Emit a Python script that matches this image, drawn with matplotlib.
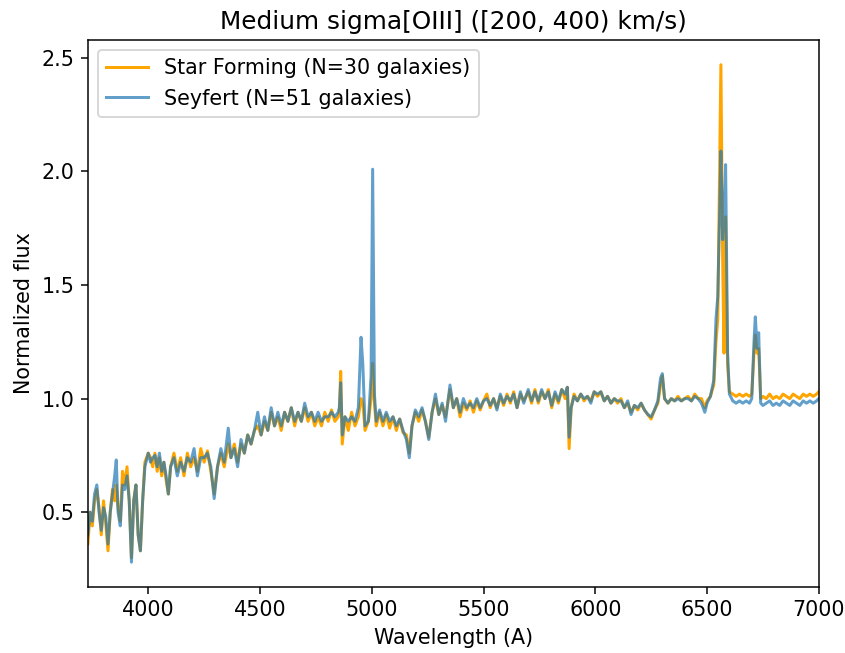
import matplotlib
matplotlib.use("Agg")
import matplotlib.pyplot as plt
import numpy as np

plt.rcParams["font.size"] = 11

# Stacked, continuum-normalised spectra for the medium sigma[OIII] bin
wavelength = [
    3730, 3740, 3750, 3760, 3770, 3780, 3790, 3800, 3810, 3820, 3830, 3840, 3850, 3857, 3865,
    3875, 3885, 3895, 3905, 3915, 3925, 3935, 3945, 3955, 3965, 3975, 3985, 4000, 4010, 4020,
    4030, 4040, 4050, 4060, 4070, 4080, 4090, 4100, 4115, 4130, 4145, 4160, 4175, 4190, 4205,
    4220, 4235, 4250, 4265, 4280, 4295, 4310, 4325, 4340, 4358, 4370, 4385, 4400, 4415, 4430,
    4445, 4460, 4475, 4490, 4505, 4520, 4535, 4550, 4565, 4580, 4595, 4610, 4625, 4640, 4655,
    4670, 4685, 4700, 4715, 4730, 4745, 4760, 4775, 4790, 4805, 4820, 4835, 4850, 4855, 4861,
    4868, 4880, 4895, 4910, 4925, 4940, 4952, 4960, 4970, 4985, 4997, 5004, 5012, 5020, 5035,
    5050, 5065, 5080, 5095, 5110, 5125, 5140, 5155, 5168, 5180, 5195, 5210, 5225, 5240, 5255,
    5270, 5285, 5300, 5315, 5330, 5350, 5365, 5380, 5395, 5410, 5425, 5440, 5455, 5470, 5485,
    5500, 5515, 5530, 5545, 5560, 5575, 5590, 5605, 5620, 5635, 5650, 5665, 5680, 5700, 5715,
    5730, 5745, 5760, 5775, 5790, 5805, 5820, 5835, 5850, 5865, 5875, 5883, 5892, 5905, 5920,
    5935, 5950, 5965, 5980, 5995, 6010, 6025, 6040, 6055, 6070, 6085, 6100, 6115, 6130, 6145,
    6160, 6175, 6190, 6205, 6220, 6235, 6250, 6265, 6280, 6292, 6300, 6310, 6325, 6340, 6355,
    6370, 6385, 6400, 6415, 6430, 6445, 6460, 6475, 6490, 6500, 6515, 6530, 6540, 6548, 6556,
    6562, 6570, 6576, 6583, 6592, 6600, 6615, 6630, 6645, 6660, 6675, 6690, 6700, 6710, 6716,
    6724, 6731, 6740, 6750, 6765, 6780, 6795, 6810, 6825, 6840, 6855, 6870, 6885, 6900, 6915,
    6930, 6945, 6960, 6975, 6990, 7000,
]

flux_sf = [
    0.36, 0.50, 0.44, 0.55, 0.60, 0.52, 0.40, 0.55, 0.45, 0.33, 0.50, 0.60, 0.55, 0.62, 0.52,
    0.46, 0.68, 0.62, 0.70, 0.55, 0.30, 0.55, 0.62, 0.40, 0.33, 0.55, 0.72, 0.76, 0.74, 0.70,
    0.76, 0.68, 0.74, 0.66, 0.72, 0.64, 0.58, 0.70, 0.76, 0.68, 0.74, 0.66, 0.76, 0.70, 0.74,
    0.68, 0.78, 0.72, 0.77, 0.68, 0.58, 0.70, 0.76, 0.70, 0.80, 0.74, 0.80, 0.72, 0.80, 0.76,
    0.84, 0.80, 0.86, 0.88, 0.84, 0.90, 0.86, 0.94, 0.88, 0.92, 0.86, 0.94, 0.90, 0.96, 0.88,
    0.94, 0.90, 0.96, 0.90, 0.94, 0.88, 0.92, 0.88, 0.94, 0.90, 0.95, 0.90, 0.92, 0.94, 1.12,
    0.80, 0.92, 0.86, 0.94, 0.88, 0.92, 1.00, 0.98, 0.86, 0.90, 1.00, 1.155, 0.98, 0.88, 0.94,
    0.88, 0.93, 0.87, 0.92, 0.86, 0.91, 0.85, 0.84, 0.76, 0.88, 0.94, 0.90, 0.95, 0.90, 0.83,
    0.94, 1.00, 0.93, 0.97, 0.92, 1.04, 0.96, 1.00, 0.92, 0.98, 0.95, 0.99, 0.94, 0.99, 0.95,
    0.99, 1.02, 0.96, 1.00, 0.96, 1.01, 0.97, 1.02, 0.98, 1.03, 0.96, 1.02, 0.99, 1.03, 0.98,
    1.04, 0.98, 1.03, 1.00, 1.04, 0.96, 1.02, 0.98, 1.04, 1.00, 1.05, 0.78, 0.96, 1.02, 0.99,
    1.02, 0.99, 1.01, 0.99, 1.03, 1.01, 1.03, 0.99, 1.01, 0.98, 1.00, 0.98, 1.00, 0.96, 0.98,
    0.94, 0.97, 0.95, 0.98, 0.95, 0.93, 0.91, 0.95, 0.98, 1.06, 1.10, 1.00, 0.98, 1.00, 0.99,
    1.01, 0.99, 1.00, 1.01, 0.99, 1.02, 1.00, 1.00, 0.96, 0.99, 1.01, 1.06, 1.25, 1.35, 2.00,
    2.47, 1.60, 1.20, 1.80, 1.15, 1.03, 1.02, 1.01, 1.02, 1.01, 1.02, 1.01, 1.02, 1.20, 1.28,
    1.20, 1.22, 1.00, 1.01, 1.00, 1.02, 1.00, 1.01, 1.00, 1.02, 1.01, 1.00, 1.02, 1.01, 1.00,
    1.02, 1.01, 1.02, 1.01, 1.02, 1.03,
]

flux_sy = [
    0.40, 0.50, 0.46, 0.58, 0.62, 0.50, 0.42, 0.52, 0.48, 0.36, 0.50, 0.58, 0.66, 0.73, 0.50,
    0.44, 0.62, 0.60, 0.66, 0.55, 0.28, 0.55, 0.62, 0.40, 0.33, 0.55, 0.70, 0.76, 0.72, 0.74,
    0.75, 0.70, 0.76, 0.68, 0.72, 0.66, 0.58, 0.70, 0.74, 0.66, 0.72, 0.68, 0.74, 0.72, 0.78,
    0.66, 0.74, 0.74, 0.76, 0.70, 0.56, 0.70, 0.78, 0.72, 0.87, 0.74, 0.78, 0.70, 0.82, 0.76,
    0.84, 0.80, 0.86, 0.94, 0.84, 0.92, 0.86, 0.96, 0.88, 0.94, 0.88, 0.94, 0.90, 0.96, 0.90,
    0.94, 0.90, 0.98, 0.92, 0.94, 0.90, 0.94, 0.90, 0.92, 0.92, 0.94, 0.92, 0.94, 0.96, 1.07,
    0.84, 0.92, 0.90, 0.92, 0.90, 0.96, 1.27, 1.15, 0.88, 0.90, 1.10, 2.01, 1.02, 0.90, 0.95,
    0.90, 0.94, 0.90, 0.92, 0.88, 0.91, 0.86, 0.82, 0.74, 0.88, 0.95, 0.92, 0.96, 0.90, 0.82,
    0.94, 1.02, 0.93, 0.98, 0.90, 1.06, 0.96, 1.00, 0.94, 1.00, 0.96, 0.98, 0.96, 1.00, 0.96,
    0.99, 1.00, 0.97, 1.00, 0.95, 1.02, 0.98, 1.01, 0.99, 1.02, 0.96, 1.03, 0.98, 1.04, 0.99,
    1.03, 0.99, 1.04, 1.00, 1.03, 0.97, 1.03, 0.99, 1.04, 1.02, 1.05, 0.83, 0.96, 1.01, 0.99,
    1.02, 1.00, 1.01, 0.98, 1.03, 1.02, 1.03, 0.99, 1.01, 0.98, 1.00, 0.99, 0.99, 0.96, 0.99,
    0.93, 0.97, 0.96, 0.98, 0.95, 0.93, 0.92, 0.95, 0.99, 1.09, 1.11, 1.00, 0.98, 1.00, 0.99,
    1.00, 0.99, 1.00, 1.00, 0.99, 1.01, 1.00, 0.98, 0.94, 0.98, 1.01, 1.08, 1.35, 1.45, 1.80,
    2.09, 1.70, 1.80, 2.03, 1.20, 1.02, 0.99, 0.98, 0.99, 0.98, 0.99, 0.98, 1.00, 1.25, 1.36,
    1.22, 1.29, 0.98, 0.97, 0.98, 0.99, 0.97, 0.98, 0.97, 0.99, 0.98, 0.97, 0.99, 0.98, 0.97,
    0.99, 0.98, 0.99, 0.98, 0.99, 1.00,
]

labels = ["Star Forming (N=30 galaxies)", "Seyfert (N=51 galaxies)"]
title = "Medium sigma[OIII] ([200, 400) km/s)"

wavelength = np.asarray(wavelength)

fig = plt.figure(figsize=(845 / 135, 653 / 135), dpi=135)
ax = fig.add_subplot(111)
fig.subplots_adjust(left=0.104, right=0.969, bottom=0.101, top=0.939)

ax.plot(wavelength, flux_sf, color="orange", lw=1.6, label=labels[0])
ax.plot(wavelength, flux_sy, color="tab:blue", alpha=0.7, lw=1.6, label=labels[1])

ax.set_xlim(wavelength.min(), wavelength.max())
ax.set_xlabel("Wavelength (A)")
ax.set_ylabel("Normalized flux")
ax.set_title(title)
ax.legend(loc="upper left")

fig.savefig("out.png", dpi=135)
